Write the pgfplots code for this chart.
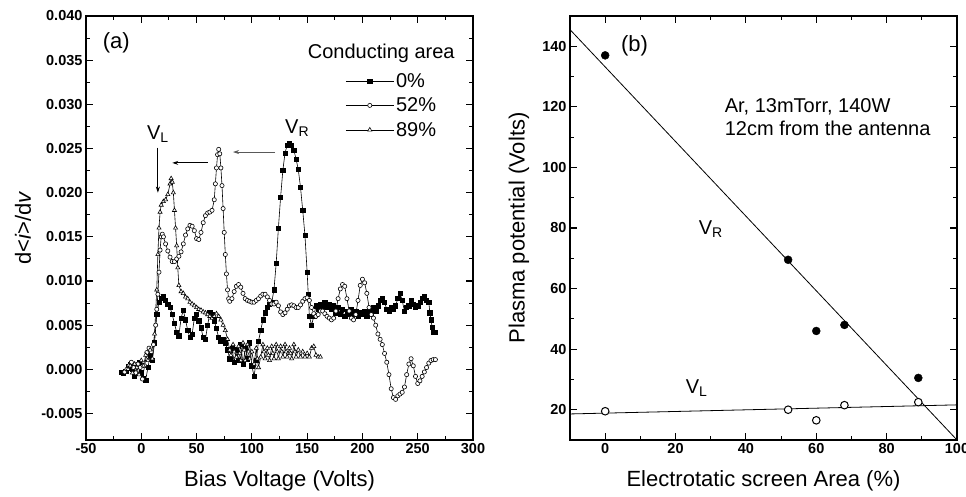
\documentclass[border=0pt]{standalone}
\usepackage{fontspec}
\setmainfont{Liberation Sans}
\usepackage{pgfplots}
\pgfplotsset{compat=1.18}
\usetikzlibrary{arrows.meta}

\pgfplotsset{
  panel/.style={
    scale only axis, width=387pt, height=424pt,
    axis line style={line width=1.6pt},
    every tick/.style={line width=1.1pt, black},
    major tick length=7pt, minor tick length=4pt,
    tick align=inside,
    minor x tick num=1, minor y tick num=1,
    tick label style={font=\fontsize{14.5}{16}\selectfont\bfseries},
    /pgf/number format/assume math mode=true,
    label style={font=\fontsize{22}{26}\selectfont},
    xlabel style={at={(axis description cs:0.5,-0.097)}, anchor=center},
  },
}

\begin{document}
\begin{tikzpicture}
\path[use as bounding box] (0,0) rectangle (966pt,497pt);

% ---------- (a) ----------
\begin{axis}[panel,
  at={(86pt,57pt)}, anchor=south west,
  xmin=-50, xmax=300, ymin=-0.008, ymax=0.040,
  xtick={-50,0,...,300},
  ytick={-0.005,0,0.005,0.010,0.015,0.020,0.025,0.030,0.035,0.040},
  scaled y ticks=false,
  yticklabel style={/pgf/number format/.cd, fixed, fixed zerofill, precision=3},
  xlabel={Bias Voltage (Volts)},
  ylabel={d<\textit{i}>/d\textit{v}},
  ylabel style={at={(axis description cs:-0.163,0.5)}, anchor=center},
  legend style={draw=none, fill=none, at={(0.67,0.875)}, anchor=north west,
    font=\fontsize{20}{22}\selectfont, row sep=5pt, inner xsep=0pt},
  legend cell align=left,
  legend image code/.code={\draw[mark repeat=2,mark phase=2,#1] plot coordinates {(0pt,0pt) (24pt,0pt) (48pt,0pt)};},
]
\addplot[black, line width=0.6pt, mark=square*, mark size=2.1pt] coordinates {
(-18,-0.0003) (-16,-0.0004) (-14,-0.0002) (-12,0.0003) (-10,0.0006) (-8,0.0000)
(-6,-0.0008) (-4,0.0004) (-2,0.0008) (0,-0.0004) (2,-0.0010) (4,-0.0012) (6,0.0002)
(8,0.0016) (10,0.0010) (12,0.0030) (14,0.0062) (16,0.0076) (18,0.0080) (20,0.0082)
(22,0.0078) (24,0.0074) (26,0.0070) (28,0.0062) (30,0.0052) (32,0.0042) (34,0.0038)
(36,0.0058) (38,0.0067) (40,0.0056) (42,0.0044) (44,0.0036) (46,0.0040) (48,0.0058)
(50,0.0062) (52,0.0055) (54,0.0047) (56,0.0036) (58,0.0034) (60,0.0050) (62,0.0064)
(64,0.0062) (66,0.0055) (68,0.0046) (70,0.0036) (72,0.0032) (74,0.0034) (76,0.0030)
(78,0.0022) (80,0.0012) (82,0.0024) (84,0.0008) (86,0.0022) (88,0.0010) (90,0.0028)
(92,0.0006) (94,0.0024) (96,0.0012) (98,0.0030) (100,0.0004) (102,-0.0008) (104,0.0010)
(106,0.0032) (108,0.0044) (110,0.0056) (112,0.0064) (114,0.0070) (116,0.0074) (118,0.0076)
(120,0.0090) (122,0.0120) (124,0.0160) (126,0.0195) (128,0.0225) (130,0.0245) (132,0.0254)
(134,0.0256) (136,0.0254) (138,0.0248) (140,0.0238) (142,0.0226) (144,0.0206) (146,0.0180)
(148,0.0152) (150,0.0110) (151,0.0085) (152,0.0060) (154,0.0050) (156,0.0060) (158,0.0072)
(160,0.0068) (162,0.0074) (164,0.0070) (166,0.0076) (168,0.0070) (170,0.0074) (172,0.0068)
(174,0.0072) (176,0.0064) (178,0.0070) (180,0.0062) (182,0.0068) (184,0.0060) (186,0.0066)
(188,0.0062) (190,0.0068) (192,0.0062) (194,0.0066) (196,0.0060) (198,0.0064) (200,0.0062)
(202,0.0066) (204,0.0060) (206,0.0066) (208,0.0064) (210,0.0070) (212,0.0066) (214,0.0072)
(216,0.0078) (218,0.0080) (220,0.0076) (222,0.0068) (224,0.0066) (226,0.0070) (228,0.0068)
(230,0.0072) (232,0.0080) (234,0.0086) (236,0.0078) (238,0.0066) (240,0.0070) (242,0.0072)
(244,0.0078) (246,0.0074) (248,0.0070) (250,0.0072) (252,0.0076) (254,0.0080) (256,0.0082)
(258,0.0078) (260,0.0076) (261,0.0064) (262,0.0056) (263,0.0048) (264,0.0042) (266,0.0042)
};
\addlegendentry{0\%}
\addplot[black, line width=0.6pt, mark=*, mark size=2.1pt, mark options={fill=white}] coordinates {
(-15,-0.0003) (-13,0.0000) (-11,0.0004) (-9,0.0008) (-7,0.0002) (-5,-0.0004) (-3,0.0006)
(-1,0.0002) (1,-0.0011) (3,0.0004) (5,0.0019) (7,0.0024) (9,0.0020) (11,0.0028) (13,0.0050)
(14,0.0068) (15,0.0085) (16,0.0110) (17,0.0135) (18,0.0150) (19,0.0153) (20,0.0150)
(22,0.0142) (24,0.0134) (26,0.0127) (28,0.0122) (30,0.0122) (32,0.0125) (34,0.0128)
(36,0.0133) (38,0.0142) (40,0.0152) (42,0.0159) (44,0.0163) (46,0.0162) (48,0.0157)
(50,0.0148) (52,0.0147) (54,0.0155) (56,0.0166) (58,0.0174) (60,0.0177) (62,0.0178)
(64,0.0180) (66,0.0192) (67,0.0210) (68,0.0228) (69,0.0243) (70,0.0249) (71,0.0244)
(72,0.0228) (73,0.0208) (74,0.0182) (75,0.0155) (76,0.0130) (77,0.0108) (78,0.0090)
(79,0.0080) (80,0.0077) (82,0.0080) (84,0.0088) (86,0.0094) (88,0.0096) (90,0.0093)
(92,0.0086) (94,0.0080) (96,0.0078) (98,0.0077) (100,0.0076) (102,0.0076) (104,0.0078)
(106,0.0080) (108,0.0083) (110,0.0085) (112,0.0085) (114,0.0082) (116,0.0078) (118,0.0074)
(120,0.0074) (122,0.0076) (124,0.0072) (126,0.0065) (128,0.0062) (130,0.0064) (132,0.0068)
(134,0.0072) (136,0.0073) (138,0.0072) (140,0.0070) (142,0.0070) (144,0.0073) (146,0.0077)
(148,0.0080) (150,0.0081) (152,0.0078) (154,0.0070) (156,0.0063) (158,0.0060) (160,0.0062)
(162,0.0066) (164,0.0066) (166,0.0063) (168,0.0060) (170,0.0058) (172,0.0056) (174,0.0058)
(176,0.0066) (178,0.0080) (180,0.0091) (182,0.0096) (184,0.0094) (186,0.0080) (188,0.0066)
(190,0.0058) (192,0.0056) (194,0.0062) (196,0.0078) (198,0.0095) (200,0.0102) (202,0.0098)
(204,0.0086) (206,0.0070) (208,0.0062) (210,0.0058) (212,0.0050) (214,0.0040) (216,0.0034)
(218,0.0028) (220,0.0018) (222,0.0008) (224,-0.0006) (226,-0.0022) (228,-0.0032) (230,-0.0034)
(232,-0.0030) (234,-0.0028) (236,-0.0026) (238,-0.0020) (240,-0.0006) (242,0.0006) (244,0.0012)
(246,0.0004) (248,-0.0008) (250,-0.0016) (252,-0.0013) (254,-0.0008) (256,-0.0003) (258,0.0002)
(260,0.0007) (262,0.0010) (264,0.0011) (266,0.0011)
};
\addlegendentry{52\%}
\addplot[black, line width=0.6pt, mark=triangle*, mark size=2.4pt, mark options={fill=white}] coordinates {
(-12,0.0000) (-10,0.0004) (-8,-0.0004) (-6,0.0006) (-4,0.0002) (-2,-0.0006) (0,0.0010)
(2,0.0004) (4,0.0016) (6,0.0010) (8,0.0022) (10,0.0012) (12,0.0040) (14,0.0090) (15,0.0130)
(16,0.0160) (17,0.0178) (18,0.0186) (20,0.0190) (22,0.0192) (24,0.0198) (26,0.0210)
(27,0.0216) (28,0.0212) (29,0.0200) (30,0.0180) (31,0.0160) (32,0.0140) (33,0.0115)
(34,0.0095) (36,0.0088) (38,0.0086) (40,0.0082) (42,0.0080) (44,0.0076) (46,0.0074)
(48,0.0072) (50,0.0070) (52,0.0068) (54,0.0067) (56,0.0065) (58,0.0064) (60,0.0062)
(62,0.0060) (64,0.0058) (66,0.0060) (68,0.0063) (70,0.0060) (72,0.0056) (74,0.0050)
(76,0.0044) (78,0.0034) (80,0.0022) (81,0.0016) (83,0.0028) (84,0.0020) (86,0.0014)
(88,0.0026) (89,0.0018) (90,0.0010) (92,0.0030) (93,0.0022) (94,0.0010) (96,0.0028)
(97,0.0020) (98,0.0012) (100,0.0020) (102,0.0006) (104,0.0024) (105,0.0012) (106,0.0002)
(108,0.0014) (110,0.0028) (111,0.0020) (112,0.0012) (114,0.0024) (115,0.0016) (116,0.0010)
(118,0.0026) (119,0.0018) (120,0.0012) (122,0.0028) (123,0.0020) (124,0.0012) (126,0.0026)
(127,0.0020) (128,0.0014) (130,0.0028) (131,0.0020) (132,0.0014) (134,0.0024) (135,0.0018)
(136,0.0012) (138,0.0028) (139,0.0020) (140,0.0014) (142,0.0022) (144,0.0014) (146,0.0020)
(148,0.0014) (150,0.0018) (152,0.0014) (154,0.0024) (156,0.0026) (158,0.0016) (160,0.0014)
(162,0.0014)
};
\addlegendentry{89\%}
\node[anchor=west, font=\fontsize{22}{26}\selectfont] at (axis cs:-38,0.0370) {(a)};
\node[font=\fontsize{20}{22}\selectfont] at (axis cs:217,0.0358) {Conducting area};
\node[font=\fontsize{20}{22}\selectfont] at (axis cs:15,0.0266) {V\textsubscript{L}};
\node[font=\fontsize{20}{22}\selectfont] at (axis cs:141,0.0273) {V\textsubscript{R}};
\draw[-{Stealth[length=6pt,width=4pt]}, line width=0.9pt] (axis cs:15,0.0251) -- (axis cs:15,0.0200);
\draw[-{Stealth[length=6pt,width=4pt]}, line width=1.2pt] (axis cs:60,0.02337) -- (axis cs:28,0.02337);
\draw[-{Stealth[length=6pt,width=4pt]}, line width=0.7pt, gray!70!black] (axis cs:121,0.0246) -- (axis cs:83,0.0246);
\end{axis}

% ---------- (b) ----------
\begin{axis}[panel,
  at={(570pt,57pt)}, anchor=south west,
  xmin=-10, xmax=100, ymin=10, ymax=150,
  xtick={0,20,...,100}, ytick={20,40,...,140},
  xlabel={Electrotatic screen Area (\%)},
  ylabel={Plasma potential (Volts)},
  ylabel style={at={(axis description cs:-0.132,0.5)}, anchor=center},
]
\addplot[black, line width=0.8pt] coordinates {(-10,145.5) (100,10)};
\addplot[black, line width=0.8pt] coordinates {(-10,18.6) (100,21.6)};
\addplot[only marks, mark=*, mark size=4pt, black] coordinates {
(0,137) (52,69.5) (60,46) (68,48) (89,30.5)};
\addplot[only marks, mark=*, mark size=3.8pt, mark options={fill=white, line width=1pt}, black] coordinates {
(0,19.5) (52,20) (60,16.5) (68,21.5) (89,22.5)};
\node[anchor=west, font=\fontsize{22}{26}\selectfont] at (axis cs:3.5,140) {(b)};
\node[anchor=west, font=\fontsize{20}{22}\selectfont] at (axis cs:33,120) {Ar, 13mTorr, 140W};
\node[anchor=west, font=\fontsize{20}{22}\selectfont] at (axis cs:33,113) {12cm from the antenna};
\node[font=\fontsize{20}{22}\selectfont] at (axis cs:30,79.5) {V\textsubscript{R}};
\node[font=\fontsize{20}{22}\selectfont] at (axis cs:26,27) {V\textsubscript{L}};
\end{axis}
\end{tikzpicture}
\end{document}
